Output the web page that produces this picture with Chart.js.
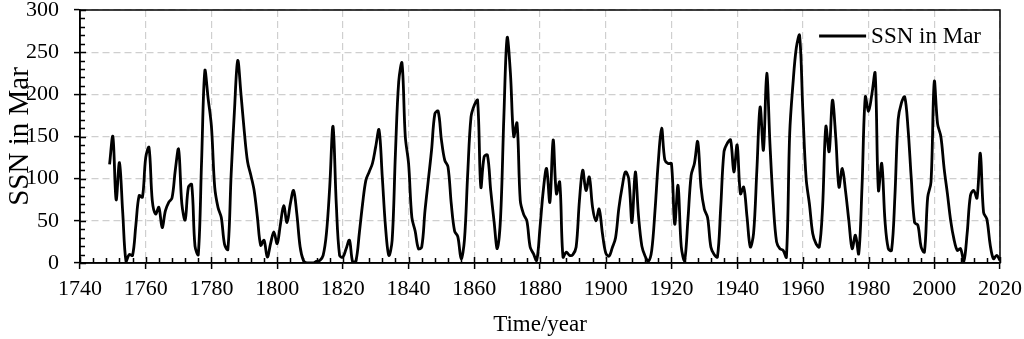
<!DOCTYPE html>
<html>
<head>
<meta charset="utf-8">
<title>SSN in Mar</title>
<script src="https://cdn.jsdelivr.net/npm/chart.js@4.4.0/dist/chart.umd.min.js"></script>
<style>
  html, body { margin: 0; padding: 0; background: #fff; }
  #wrap { position: relative; width: 1024px; height: 339px; }
</style>
</head>
<body>
<div id="wrap"><canvas id="chart"></canvas></div>
<script>
// March sunspot number, one value per year starting 1749
const firstYear = 1749;
const ssnMar = [
  117,
  150, 75, 119, 60, 2, 10, 9, 45, 80, 78,          // 1750s
  125, 137, 74, 58, 66, 42, 62, 72, 77, 110,       // 1760s
  135, 70, 51, 90, 93, 20, 10, 120, 228, 195,      // 1770s
  162, 90, 66, 54, 22, 16, 105, 180, 240, 200,     // 1780s
  156, 120, 104, 86, 54, 21, 27, 7, 23, 37,        // 1790s
  23, 46, 68, 48, 70, 86, 58, 19, 3, 0,            // 1800s
  0, 0, 2, 3, 9, 35, 90, 162, 70, 9,               // 1810s
  7, 17, 27, 1, 3, 35, 70, 98, 108, 118,           // 1820s
  138, 158, 102, 42, 9, 27, 130, 215, 237, 150,    // 1830s
  118, 54, 38, 17, 19, 62, 98, 134, 177, 180,      // 1840s
  146, 122, 114, 70, 38, 31, 5, 27, 106, 173,      // 1850s
  187, 193, 90, 126, 128, 86, 50, 17, 54, 173,     // 1860s
  267, 225, 150, 166, 74, 58, 50, 19, 11, 3,       // 1870s
  42, 86, 112, 72, 146, 82, 96, 7, 13, 9,          // 1880s
  10, 19, 74, 110, 86, 102, 66, 50, 64, 35,        // 1890s
  12, 8, 18, 30, 65, 90, 108, 100, 48, 108,        // 1900s
  55, 20, 8, 2, 15, 62, 120, 160, 122, 118,        // 1910s
  118, 46, 92, 19, 3, 50, 104, 118, 144, 90,       // 1920s
  64, 54, 19, 10, 7, 66, 132, 142, 146, 108,       // 1930s
  140, 82, 90, 55, 19, 35, 110, 185, 134, 225,     // 1940s
  140, 70, 25, 17, 15, 7, 154, 213, 255, 270,      // 1950s
  180, 100, 70, 35, 23, 19, 66, 162, 132, 193,     // 1960s
  150, 90, 112, 85, 50, 17, 33, 11, 90, 197,       // 1970s
  180, 200, 225, 86, 118, 50, 17, 15, 78, 170,     // 1980s
  190, 197, 160, 100, 48, 45, 19, 13, 78, 96,      // 1990s
  215, 165, 150, 112, 82, 50, 28, 15, 17, 2,       // 2000s
  35, 80, 86, 77, 130, 60, 52, 22, 5, 9, 3         // 2010-2020
];
const xTickValues = [1740, 1760, 1780, 1800, 1820, 1840, 1860, 1880, 1900, 1920, 1940, 1960, 1980, 2000, 2020];
const yTickValues = [0, 50, 100, 150, 200, 250, 300];
const seriesLabel = 'SSN in Mar';
const xTitle = 'Time/year';
const yTitle = 'SSN in Mar';

const serif = "'Liberation Serif', 'Times New Roman', serif";
Chart.defaults.color = '#000';
Chart.defaults.font.family = serif;

const points = ssnMar.map((v, i) => ({x: firstYear + i, y: v}));

// minor ticks, inner half of the major ticks, the box and the legend
const frame = {
  id: 'frame',
  afterDraw(chart) {
    const ctx = chart.ctx;
    const a = chart.chartArea;
    const x = chart.scales.x, y = chart.scales.y;
    const xMinor = (xTickValues[1] - xTickValues[0]) / 5;
    const yMinor = (yTickValues[1] - yTickValues[0]) / 5;
    ctx.save();
    ctx.strokeStyle = '#000';
    ctx.lineWidth = 1.5;
    ctx.beginPath();
    for (let v = xTickValues[0]; v <= xTickValues[xTickValues.length - 1]; v += xMinor) {
      const px = Math.round(x.getPixelForValue(v)) + 0.5;
      const major = xTickValues.includes(v);
      ctx.moveTo(px, a.bottom);
      ctx.lineTo(px, a.bottom - (major ? 6 : 5));
    }
    for (let v = yTickValues[0]; v <= yTickValues[yTickValues.length - 1]; v += yMinor) {
      const py = Math.round(y.getPixelForValue(v)) + 0.5;
      const major = yTickValues.includes(v);
      ctx.moveTo(a.left, py);
      ctx.lineTo(a.left + (major ? 6 : 5), py);
    }
    ctx.stroke();
    ctx.strokeRect(a.left, a.top, a.right - a.left, a.bottom - a.top);

    // legend
    const label = chart.data.datasets[0].label;
    ctx.font = '23px ' + serif;
    ctx.fillStyle = '#000';
    ctx.textBaseline = 'middle';
    const tw = ctx.measureText(label).width;
    const tx = a.right - 19 - tw;
    const ly = a.top + 26;
    ctx.fillText(label, tx, ly + 1);
    ctx.lineWidth = 3;
    ctx.beginPath();
    ctx.moveTo(tx - 52, ly);
    ctx.lineTo(tx - 5, ly);
    ctx.stroke();
    ctx.restore();
  }
};

new Chart(document.getElementById('chart'), {
  type: 'line',
  data: {
    datasets: [{
      label: seriesLabel,
      data: points,
      borderColor: '#000',
      backgroundColor: '#000',
      borderWidth: 2.8,
      pointRadius: 0,
      tension: 0.35,
      fill: false
    }]
  },
  options: {
    responsive: true,
    maintainAspectRatio: false,
    animation: false,
    layout: { padding: { top: 10, right: 24, left: 0, bottom: 0 } },
    plugins: {
      legend: { display: false },
      tooltip: { enabled: false }
    },
    scales: {
      x: {
        type: 'linear',
        min: xTickValues[0],
        max: xTickValues[xTickValues.length - 1],
        afterBuildTicks: s => { s.ticks = xTickValues.map(v => ({value: v})); },
        afterFit: s => { s.height = 76; s.paddingLeft = 0; s.paddingRight = 0; },
        ticks: {
          font: { size: 22 },
          padding: 7,
          maxRotation: 0,
          autoSkip: false,
          callback: v => String(v)
        },
        grid: { color: '#cfcfcf', lineWidth: 1.2, tickColor: '#000', tickLength: 6, tickWidth: 1.5, tickBorderDash: [] },
        border: { color: '#000', width: 1.5, dash: [7, 4] },
        title: { display: true, text: xTitle, font: { size: 23 }, padding: { top: 0, bottom: 0 } }
      },
      y: {
        min: yTickValues[0],
        max: yTickValues[yTickValues.length - 1],
        afterBuildTicks: s => { s.ticks = yTickValues.map(v => ({value: v})); },
        afterFit: s => { s.width = 80; s.paddingTop = 0; s.paddingBottom = 0; },
        ticks: { font: { size: 22 }, padding: 15 },
        grid: { color: '#cfcfcf', lineWidth: 1.2, tickColor: '#000', tickLength: 6, tickWidth: 1.5, tickBorderDash: [] },
        border: { color: '#000', width: 1.5, dash: [7, 4] },
        title: { display: true, text: yTitle, font: { size: 29 }, padding: { top: 3, bottom: 0 } }
      }
    }
  },
  plugins: [frame]
});
</script>
</body>
</html>
